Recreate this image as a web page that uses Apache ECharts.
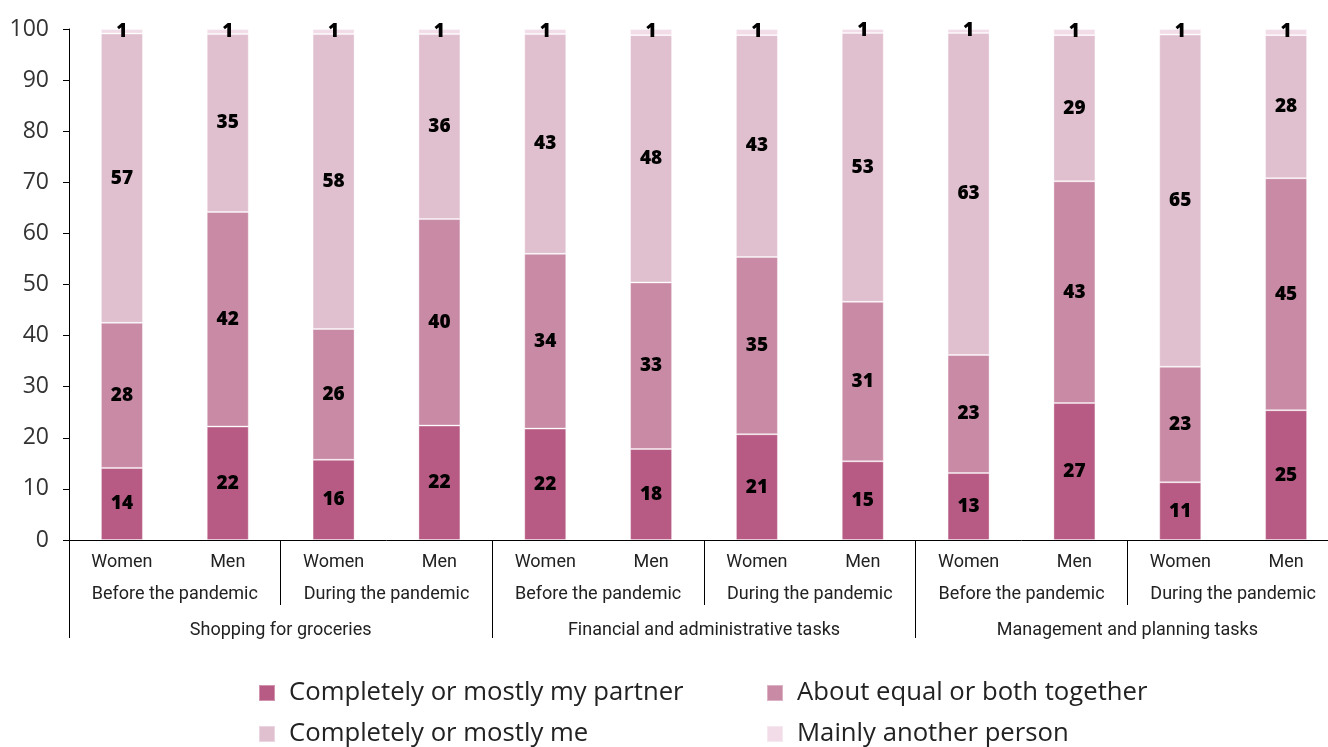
<!DOCTYPE html>
<html>
<head>
<meta charset="utf-8">
<script src="https://cdn.jsdelivr.net/npm/echarts@6/dist/echarts.min.js"></script>
<style>
  html, body { margin: 0; padding: 0; background: #fff; overflow: hidden; }
  /* the plot runs slightly past the right edge of the window */
  #chart { width: 1345px; height: 747px; }
</style>
</head>
<body>
<div id="chart"></div>
<script>
// Who does the household tasks, by gender, before and during the pandemic (% of respondents)
const genders = ['Women', 'Men', 'Women', 'Men', 'Women', 'Men', 'Women', 'Men', 'Women', 'Men', 'Women', 'Men'];
const periods = ['Before the pandemic', 'During the pandemic', 'Before the pandemic', 'During the pandemic', 'Before the pandemic', 'During the pandemic'];
const tasks = ['Shopping for groceries', 'Financial and administrative tasks', 'Management and planning tasks'];

const seriesNames = ['Completely or mostly my partner', 'About equal or both together', 'Completely or mostly me', 'Mainly another person'];
const partner  = [14.1, 22.2, 15.7, 22.4, 21.8, 17.8, 20.7, 15.4, 13.1, 26.8, 11.3, 25.4];
const together = [28.4, 42.0, 25.6, 40.4, 34.2, 32.6, 34.7, 31.2, 23.1, 43.4, 22.6, 45.4];
const me       = [56.6, 34.8, 57.7, 36.2, 43.0, 48.4, 43.4, 52.6, 63.0, 28.6, 65.0, 28.0];
const other    = [0.9, 1.0, 1.0, 1.0, 1.0, 1.2, 1.2, 0.8, 0.8, 1.2, 1.1, 1.2];

const yTicks = { min: 0, max: 100, interval: 10 };

const colors = ['#b75b84', '#c98aa5', '#e0bfcf', '#f2dce7'];
const values = [partner, together, me, other];

const catFont = "Roboto, 'Liberation Sans', sans-serif";
const mainFont = "'Open Sans', sans-serif";

const chart = echarts.init(document.getElementById('chart'), null, { renderer: 'canvas' });

function legendItem(name, left, top) {
  return {
    data: [name],
    left: left,
    top: top,
    padding: 0,
    icon: 'rect',
    itemWidth: 16,
    itemHeight: 16,
    selectedMode: false,
    textStyle: {
      fontFamily: mainFont,
      fontSize: 25.7,
      color: '#222',
      padding: [0, 0, 0, 9]
    }
  };
}

chart.setOption({
  animation: false,
  color: colors,
  grid: { left: 69, width: 1270, top: 29, bottom: 207, containLabel: false },
  legend: [
    legendItem(seriesNames[0], 258, 680),
    legendItem(seriesNames[1], 766, 680),
    legendItem(seriesNames[2], 258, 721),
    legendItem(seriesNames[3], 766, 721)
  ],
  xAxis: [
    {
      type: 'category',
      data: genders,
      position: 'bottom',
      axisLine: { show: true, lineStyle: { color: '#000', width: 1 } },
      axisTick: { show: false },
      axisLabel: { interval: 0, margin: 13, fontFamily: catFont, fontSize: 18, color: '#222' }
    },
    {
      type: 'category',
      data: periods,
      position: 'bottom',
      axisLine: { show: false },
      axisTick: { show: true, interval: 0, length: 65, lineStyle: { color: '#000', width: 1 } },
      axisLabel: { interval: 0, margin: 45, fontFamily: catFont, fontSize: 18, color: '#222' }
    },
    {
      type: 'category',
      data: tasks,
      position: 'bottom',
      axisLine: { show: false },
      axisTick: { show: true, interval: 0, length: 98, lineStyle: { color: '#000', width: 1 } },
      axisLabel: { interval: 0, margin: 81, fontFamily: catFont, fontSize: 18, color: '#222' }
    }
  ],
  yAxis: {
    type: 'value',
    min: yTicks.min,
    max: yTicks.max,
    interval: yTicks.interval,
    axisLine: { show: true, lineStyle: { color: '#000', width: 1 } },
    axisTick: { show: true, length: 6, lineStyle: { color: '#000' } },
    splitLine: { show: false },
    axisLabel: { margin: 20, fontFamily: mainFont, fontSize: 23, color: '#333' }
  },
  series: seriesNames.map((name, i) => ({
    name: name,
    type: 'bar',
    stack: 'share',
    xAxisIndex: 0,
    barWidth: 42,
    clip: false,
    data: values[i],
    itemStyle: { color: colors[i], borderColor: 'rgba(255,255,255,0.35)', borderWidth: 1 },
    label: {
      show: true,
      position: 'inside',
      formatter: p => String(Math.round(p.value)),
      fontFamily: mainFont,
      fontWeight: 800,
      fontSize: 19,
      color: '#000'
    }
  }))
});
</script>
</body>
</html>
